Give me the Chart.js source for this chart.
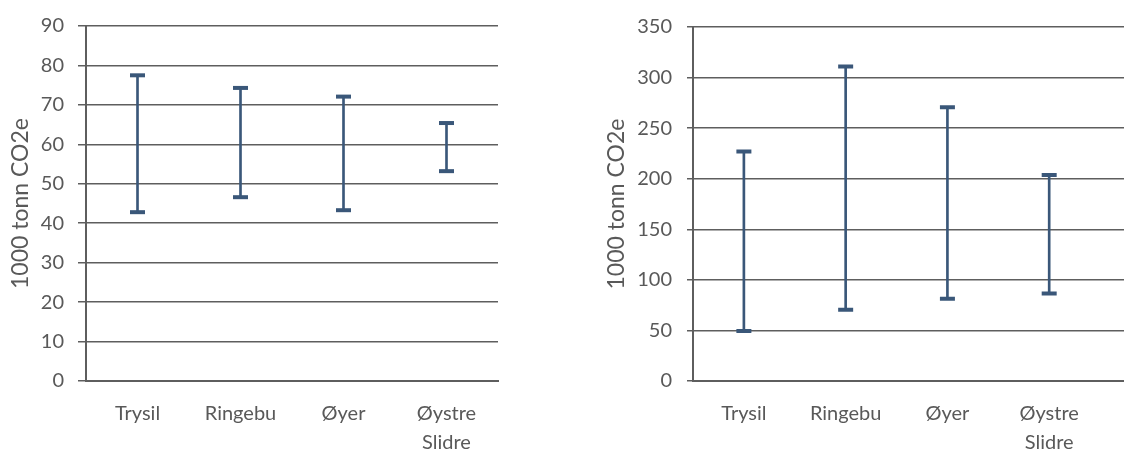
<!DOCTYPE html>
<html>
<head>
<meta charset="utf-8">
<script src="https://cdn.jsdelivr.net/npm/chart.js@4.4.1/dist/chart.umd.min.js"></script>
<style>
  html, body { margin: 0; padding: 0; background: #fff; }
  body { width: 1124px; height: 451px; position: relative; overflow: hidden; }
  .panel { position: absolute; top: 0; height: 451px; }
  #panel-left { left: 0; width: 560px; }
  #panel-right { left: 562px; width: 574px; }
</style>
</head>
<body>
<div class="panel" id="panel-left"><canvas id="chart-left" width="560" height="451"></canvas></div>
<div class="panel" id="panel-right"><canvas id="chart-right" width="574" height="451"></canvas></div>
<script>
// categories shared by both panels
const categories = ['Trysil', 'Ringebu', 'Øyer', ['Øystre', 'Slidre']];

// left panel: low / high estimates (1000 tonn CO2e)
const leftLow = [42.8, 46.6, 43.3, 53.2];
const leftHigh = [77.5, 74.3, 72.1, 65.4];
const leftYMax = 90;
const leftYStep = 10;

// right panel
const rightLow = [49.5, 70.5, 81.4, 86.6];
const rightHigh = [227, 311, 270.6, 203.7];
const rightYMax = 350;
const rightYStep = 50;

const yTitle = '1000 tonn CO2e';

const BLUE = '#3A5779';
const GRID = '#5E5E5E';
const TEXT = '#595959';
const FONT = 'Lato, "Open Sans", sans-serif';

function capDataset(values) {
  return {
    type: 'line',
    data: values.map((v, i) => ({ x: i, y: v })),
    showLine: false,
    pointStyle: 'line',
    pointRadius: 7.5,
    pointHoverRadius: 7.5,
    pointBorderColor: BLUE,
    pointBorderWidth: 4,
    borderColor: BLUE,
  };
}

function rangeChart(id, low, high, yMax, yStep, geo) {
  return new Chart(document.getElementById(id), {
    type: 'bar',
    data: {
      datasets: [
        {
          data: low.map((v, i) => ({ x: i, y: [v, high[i]] })),
          backgroundColor: BLUE,
          borderWidth: 0,
          barThickness: 2,
        },
        capDataset(high),
        capDataset(low),
      ],
    },
    options: {
      responsive: false,
      animation: false,
      layout: { padding: { top: 26, right: geo.padRight, left: 0, bottom: 0 } },
      plugins: { legend: { display: false }, tooltip: { enabled: false } },
      scales: {
        x: {
          type: 'linear',
          offset: false,
          min: -0.5,
          max: geo.xMax,
          afterBuildTicks: s => { s.ticks = categories.map((c, i) => ({ value: i })); },
          afterFit: s => {
            s.height = 70;
            s.paddingLeft = 0;
            s.paddingRight = 0;
          },
          grid: { display: false, drawTicks: false },
          border: { display: true, color: GRID, width: 2 },
          ticks: {
            color: TEXT,
            font: { family: FONT, size: 20, lineHeight: 1.45 },
            padding: 18,
            maxRotation: 0,
            autoSkip: false,
            callback: v => categories[v],
          },
        },
        y: {
          min: 0,
          max: yMax,
          afterFit: s => { s.width = geo.axisX; },
          ticks: {
            stepSize: yStep,
            color: TEXT,
            font: { family: FONT, size: 20 },
            padding: geo.tickPad,
          },
          grid: { color: GRID, lineWidth: 1.5, tickLength: geo.tick },
          border: { color: GRID, width: 2 },
          title: {
            display: true,
            text: yTitle,
            color: TEXT,
            font: { family: FONT, size: 23 },
            padding: { top: geo.titlePad, bottom: 0 },
          },
        },
      },
    },
  });
}

rangeChart('chart-left', leftLow, leftHigh, leftYMax, leftYStep,
  { padRight: 62, xMax: 3.5, axisX: 86, tick: 8, tickPad: 14, titlePad: 7 });

rangeChart('chart-right', rightLow, rightHigh, rightYMax, rightYStep,
  { padRight: 0, xMax: 3.74, axisX: 131, tick: 6, tickPad: 15, titlePad: 41 });
</script>
</body>
</html>
